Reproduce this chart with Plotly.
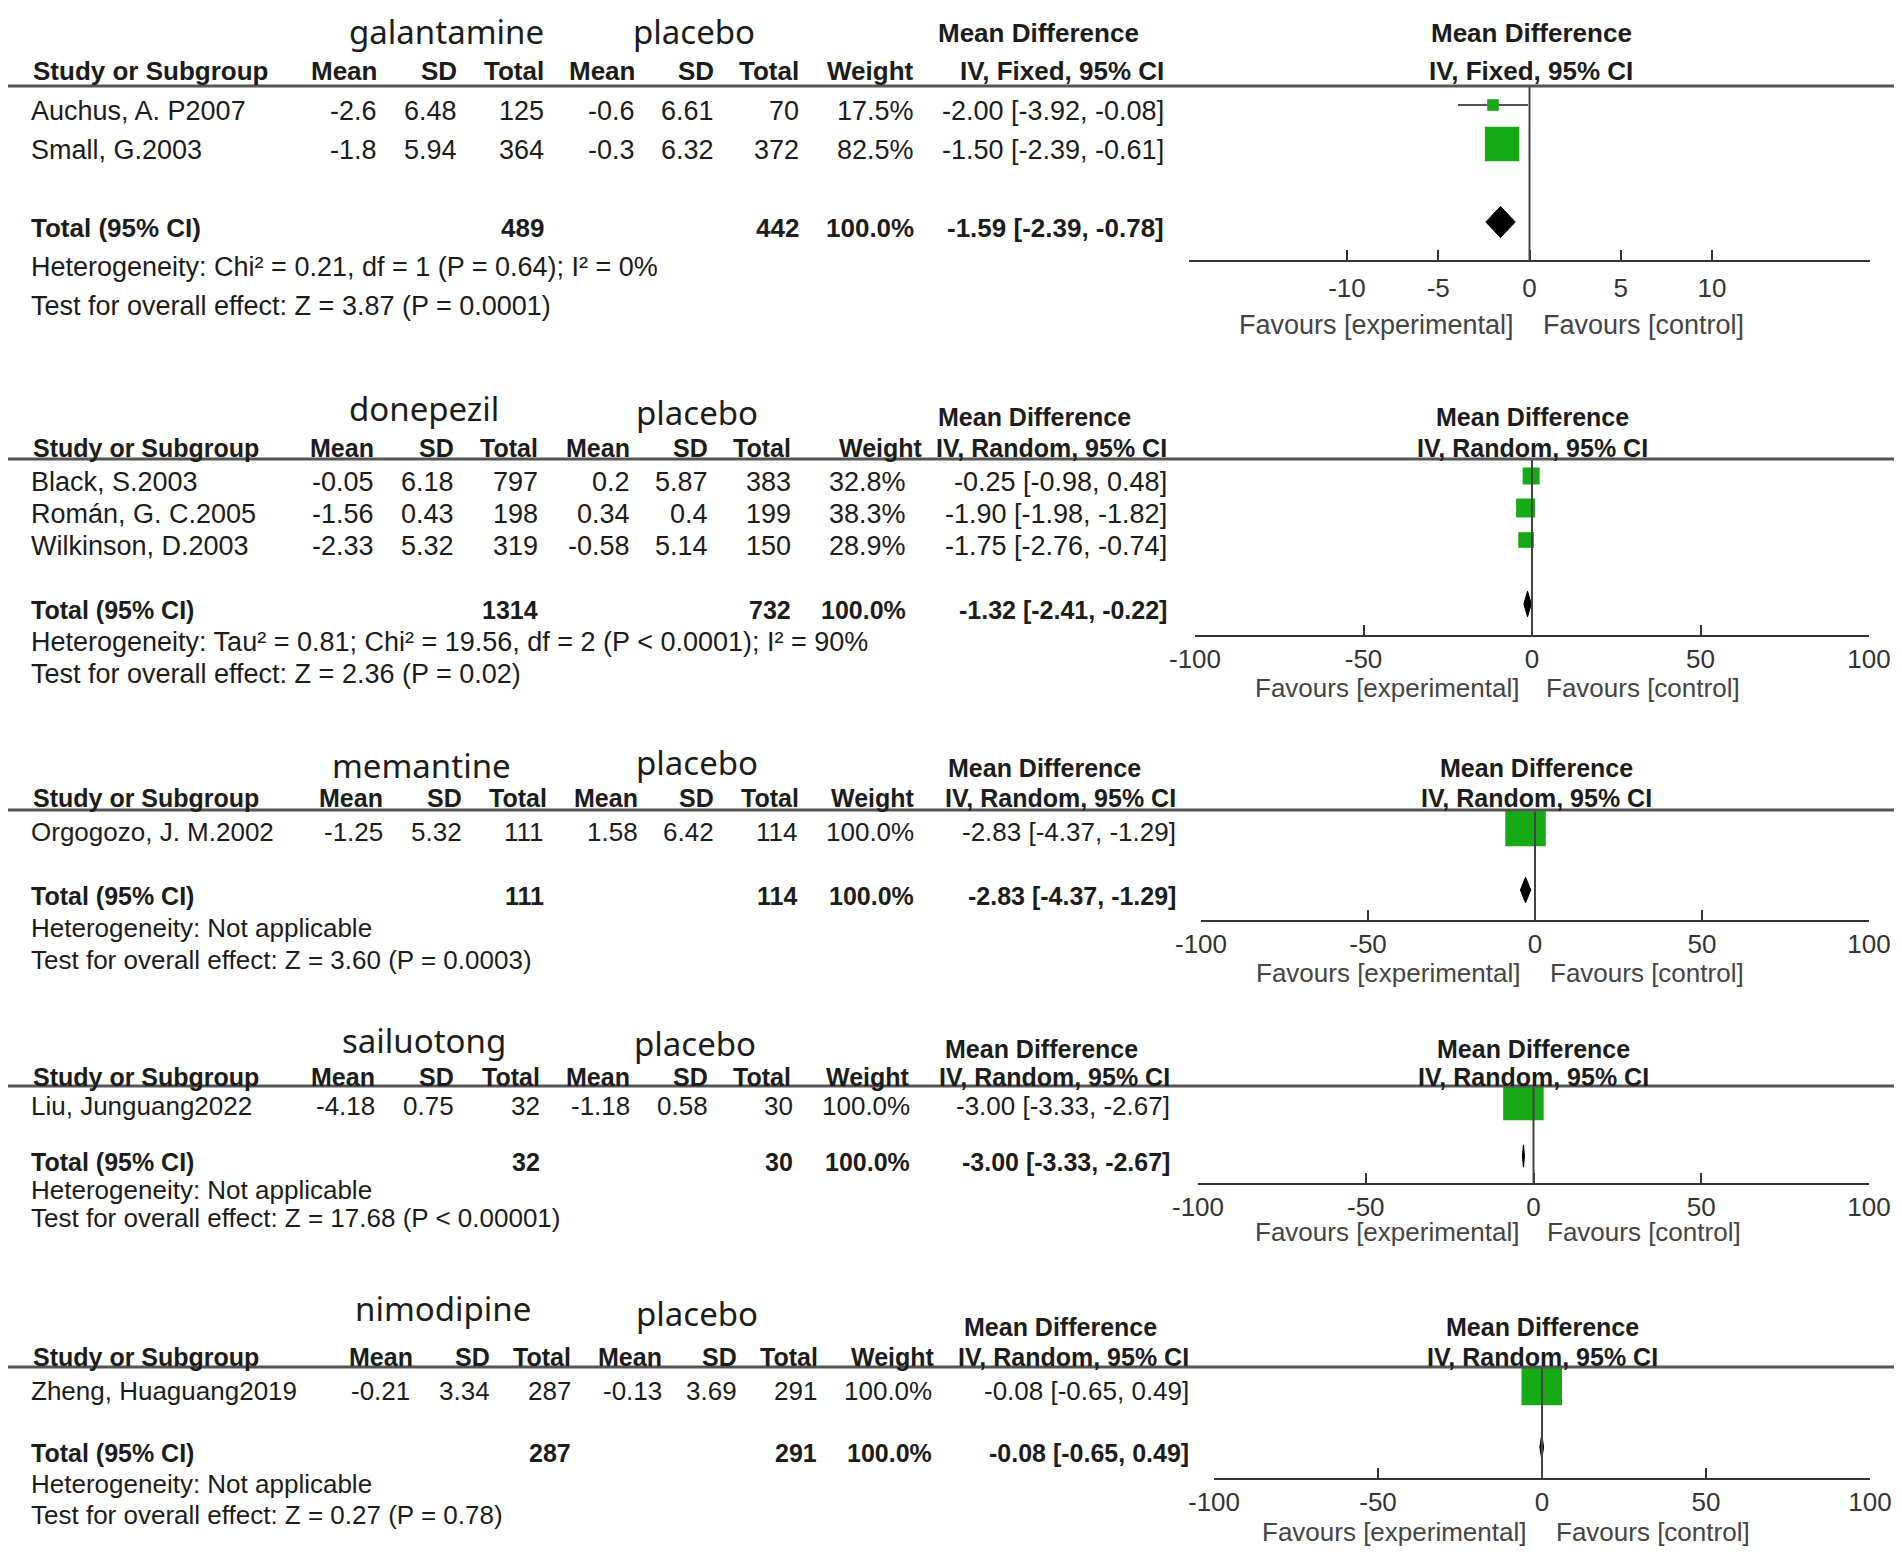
import plotly.graph_objects as go

# ---------------- DATA ----------------
# Panel 1: galantamine vs placebo
P1_DRUG = "galantamine"
P1_METHOD = "IV, Fixed, 95% CI"
P1_STUDY = ["Auchus, A. P2007", "Small, G.2003"]
P1_EXP_MEAN = [-2.6, -1.8]
P1_EXP_SD = [6.48, 5.94]
P1_EXP_N = [125, 364]
P1_CTL_MEAN = [-0.6, -0.3]
P1_CTL_SD = [6.61, 6.32]
P1_CTL_N = [70, 372]
P1_WEIGHT = [17.5, 82.5]
P1_MD = [-2.00, -1.50]
P1_LO = [-3.92, -2.39]
P1_HI = [-0.08, -0.61]
P1_POOLED = [-1.59, -2.39, -0.78]
P1_HET = "Heterogeneity: Chi² = 0.21, df = 1 (P = 0.64); I² = 0%"
P1_TEST = "Test for overall effect: Z = 3.87 (P = 0.0001)"
P1_TICKS = [-10, -5, 0, 5, 10]

# Panel 2: donepezil vs placebo
P2_DRUG = "donepezil"
P2_METHOD = "IV, Random, 95% CI"
P2_STUDY = ["Black, S.2003", "Román, G. C.2005", "Wilkinson, D.2003"]
P2_EXP_MEAN = [-0.05, -1.56, -2.33]
P2_EXP_SD = [6.18, 0.43, 5.32]
P2_EXP_N = [797, 198, 319]
P2_CTL_MEAN = [0.2, 0.34, -0.58]
P2_CTL_SD = [5.87, 0.4, 5.14]
P2_CTL_N = [383, 199, 150]
P2_WEIGHT = [32.8, 38.3, 28.9]
P2_MD = [-0.25, -1.90, -1.75]
P2_LO = [-0.98, -1.98, -2.76]
P2_HI = [0.48, -1.82, -0.74]
P2_POOLED = [-1.32, -2.41, -0.22]
P2_HET = "Heterogeneity: Tau² = 0.81; Chi² = 19.56, df = 2 (P < 0.0001); I² = 90%"
P2_TEST = "Test for overall effect: Z = 2.36 (P = 0.02)"
P2_TICKS = [-100, -50, 0, 50, 100]

# Panel 3: memantine vs placebo
P3_DRUG = "memantine"
P3_METHOD = "IV, Random, 95% CI"
P3_STUDY = ["Orgogozo, J. M.2002"]
P3_EXP_MEAN = [-1.25]
P3_EXP_SD = [5.32]
P3_EXP_N = [111]
P3_CTL_MEAN = [1.58]
P3_CTL_SD = [6.42]
P3_CTL_N = [114]
P3_WEIGHT = [100.0]
P3_MD = [-2.83]
P3_LO = [-4.37]
P3_HI = [-1.29]
P3_POOLED = [-2.83, -4.37, -1.29]
P3_HET = "Heterogeneity: Not applicable"
P3_TEST = "Test for overall effect: Z = 3.60 (P = 0.0003)"
P3_TICKS = [-100, -50, 0, 50, 100]

# Panel 4: sailuotong vs placebo
P4_DRUG = "sailuotong"
P4_METHOD = "IV, Random, 95% CI"
P4_STUDY = ["Liu, Junguang2022"]
P4_EXP_MEAN = [-4.18]
P4_EXP_SD = [0.75]
P4_EXP_N = [32]
P4_CTL_MEAN = [-1.18]
P4_CTL_SD = [0.58]
P4_CTL_N = [30]
P4_WEIGHT = [100.0]
P4_MD = [-3.00]
P4_LO = [-3.33]
P4_HI = [-2.67]
P4_POOLED = [-3.00, -3.33, -2.67]
P4_HET = "Heterogeneity: Not applicable"
P4_TEST = "Test for overall effect: Z = 17.68 (P < 0.00001)"
P4_TICKS = [-100, -50, 0, 50, 100]

# Panel 5: nimodipine vs placebo
P5_DRUG = "nimodipine"
P5_METHOD = "IV, Random, 95% CI"
P5_STUDY = ["Zheng, Huaguang2019"]
P5_EXP_MEAN = [-0.21]
P5_EXP_SD = [3.34]
P5_EXP_N = [287]
P5_CTL_MEAN = [-0.13]
P5_CTL_SD = [3.69]
P5_CTL_N = [291]
P5_WEIGHT = [100.0]
P5_MD = [-0.08]
P5_LO = [-0.65]
P5_HI = [0.49]
P5_POOLED = [-0.08, -0.65, 0.49]
P5_HET = "Heterogeneity: Not applicable"
P5_TEST = "Test for overall effect: Z = 0.27 (P = 0.78)"
P5_TICKS = [-100, -50, 0, 50, 100]

CONTROL = "placebo"
HEADERS = ["Mean", "SD", "Total", "Mean", "SD", "Total", "Weight"]
FAV_EXP = "Favours [experimental]"
FAV_CTL = "Favours [control]"

panels = [
    dict(drug=P1_DRUG, method=P1_METHOD, study=P1_STUDY, em=P1_EXP_MEAN, esd=P1_EXP_SD, en=P1_EXP_N,
         cm=P1_CTL_MEAN, csd=P1_CTL_SD, cn=P1_CTL_N, w=P1_WEIGHT, md=P1_MD, lo=P1_LO, hi=P1_HI,
         pooled=P1_POOLED, het=P1_HET, test=P1_TEST, ticks=P1_TICKS),
    dict(drug=P2_DRUG, method=P2_METHOD, study=P2_STUDY, em=P2_EXP_MEAN, esd=P2_EXP_SD, en=P2_EXP_N,
         cm=P2_CTL_MEAN, csd=P2_CTL_SD, cn=P2_CTL_N, w=P2_WEIGHT, md=P2_MD, lo=P2_LO, hi=P2_HI,
         pooled=P2_POOLED, het=P2_HET, test=P2_TEST, ticks=P2_TICKS),
    dict(drug=P3_DRUG, method=P3_METHOD, study=P3_STUDY, em=P3_EXP_MEAN, esd=P3_EXP_SD, en=P3_EXP_N,
         cm=P3_CTL_MEAN, csd=P3_CTL_SD, cn=P3_CTL_N, w=P3_WEIGHT, md=P3_MD, lo=P3_LO, hi=P3_HI,
         pooled=P3_POOLED, het=P3_HET, test=P3_TEST, ticks=P3_TICKS),
    dict(drug=P4_DRUG, method=P4_METHOD, study=P4_STUDY, em=P4_EXP_MEAN, esd=P4_EXP_SD, en=P4_EXP_N,
         cm=P4_CTL_MEAN, csd=P4_CTL_SD, cn=P4_CTL_N, w=P4_WEIGHT, md=P4_MD, lo=P4_LO, hi=P4_HI,
         pooled=P4_POOLED, het=P4_HET, test=P4_TEST, ticks=P4_TICKS),
    dict(drug=P5_DRUG, method=P5_METHOD, study=P5_STUDY, em=P5_EXP_MEAN, esd=P5_EXP_SD, en=P5_EXP_N,
         cm=P5_CTL_MEAN, csd=P5_CTL_SD, cn=P5_CTL_N, w=P5_WEIGHT, md=P5_MD, lo=P5_LO, hi=P5_HI,
         pooled=P5_POOLED, het=P5_HET, test=P5_TEST, ticks=P5_TICKS),
]

# ---------------- LAYOUT (pixel geometry of each panel, in page pixels) ----------------
PAGE_OFFSET = 8          # browser default body margin
W, H = 1902 - PAGE_OFFSET, 1562 - PAGE_OFFSET
GEOM = [
    dict(drug=(446, 32), ctl=(694, 32), md_left=(936, 33), hdr_y=71, line_y=86, y0=105, u=39, axis_y=260,
         cols=[379, 459, 546, 637, 716, 801, 916, 1166], hcols=[379, 459, 546, 637, 716, 801, 916],
         rc=1531, xdom=(1189, 1870), xr=(-18.65, 18.65), tick_off=28, fav_y=325, fav_split=(1516, 1541),
         fs=26, row_fs=27, note_fs=27, fav_fs=27),
    dict(drug=(424, 408), ctl=(697, 412), md_left=(936, 417), hdr_y=448, line_y=459, y0=476, u=32, axis_y=635,
         cols=[376, 456, 540, 632, 710, 793, 908, 1169], hcols=[376, 456, 540, 632, 710, 793, 925],
         rc=1532, xdom=(1195, 1869), xr=(-100, 100), tick_off=23, fav_y=688, fav_split=(1521, 1544),
         fs=25, row_fs=27, note_fs=27, fav_fs=26),
    dict(drug=(421, 765), ctl=(697, 763), md_left=(946, 768), hdr_y=798, line_y=810, y0=826, u=32, axis_y=920,
         cols=[385, 464, 546, 640, 716, 799, 916, 1178], hcols=[385, 464, 549, 640, 716, 801, 917],
         rc=1536, xdom=(1201, 1869), xr=(-100, 100), tick_off=23, fav_y=973, fav_split=(1522, 1548),
         fs=25, row_fs=26, note_fs=26, fav_fs=26),
    dict(drug=(424, 1040), ctl=(695, 1043), md_left=(943, 1049), hdr_y=1077, line_y=1086, y0=1100, u=28, axis_y=1183,
         cols=[377, 456, 542, 632, 710, 795, 912, 1172], hcols=[377, 456, 542, 632, 710, 793, 912],
         rc=1533, xdom=(1198, 1869), xr=(-100, 100), tick_off=20, fav_y=1232, fav_split=(1521, 1545),
         fs=25, row_fs=26, note_fs=26, fav_fs=26),
    dict(drug=(443, 1308), ctl=(697, 1313), md_left=(962, 1327), hdr_y=1357, line_y=1367, y0=1385, u=31, axis_y=1478,
         cols=[412, 492, 573, 664, 739, 819, 934, 1191], hcols=[415, 492, 573, 664, 739, 820, 937],
         rc=1542, xdom=(1214, 1870), xr=(-100, 100), tick_off=22, fav_y=1532, fav_split=(1528, 1554),
         fs=25, row_fs=26, note_fs=26, fav_fs=26),
]

TXT = "#1c1c1c"
GREEN = "#16aa16"
FONT = "Liberation Sans, Arial, sans-serif"
TITLE_FONT = "Noto Sans, Open Sans, sans-serif"
TEXT_SHIFT = 6  # text centres sit slightly below the marks (px)
DEFAULT_TICK_OFFSET = 24


def fx(px):
    return (px - PAGE_OFFSET) / W


def fy(px):
    return 1 - (px - PAGE_OFFSET) / H


fig = go.Figure()
annotations = []
shapes = []


def ann(text, x, ypx, xanchor="left", size=26, bold=False, color=TXT, family=FONT):
    annotations.append(dict(
        text=f"<b>{text}</b>" if bold else text,
        x=fx(x), y=fy(ypx), xref="paper", yref="paper", xanchor=xanchor, yanchor="middle",
        showarrow=False,
        font=dict(family=family, size=size, color=color),
    ))


def fmt(v):
    return f"{v:g}"


def ci(m, lo, hi):
    return f"{m:.2f} [{lo:.2f}, {hi:.2f}]"


for k, (p, g) in enumerate(zip(panels, GEOM), start=1):
    xa = "x" if k == 1 else f"x{k}"
    ya = "y" if k == 1 else f"y{k}"
    fs = g["fs"]
    n = len(p["study"])

    def row_px(r, g=g):
        # pixel row of a table line, same mapping as the y axis plus text offset
        return g["y0"] + r * g["u"] + TEXT_SHIFT

    fig.update_layout(**{
        ("xaxis" if k == 1 else f"xaxis{k}"): dict(
            domain=[fx(g["xdom"][0]), fx(g["xdom"][1])], range=list(g["xr"]), anchor=ya,
            showline=True, linecolor="#333333", linewidth=2, ticks="inside", ticklen=10,
            tickwidth=2, tickcolor="#333333", tickvals=p["ticks"], ticktext=[str(t) for t in p["ticks"]],
            tickfont=dict(family=FONT, size=26, color="#333333"), showgrid=False, zeroline=False,
            ticklabelstandoff=max(0, g["tick_off"] - DEFAULT_TICK_OFFSET), fixedrange=True,
            automargin=False,
        ),
        ("yaxis" if k == 1 else f"yaxis{k}"): dict(
            domain=[fy(g["axis_y"]), fy(g["line_y"])],
            range=[(g["axis_y"] - g["y0"]) / g["u"], (g["line_y"] - g["y0"]) / g["u"]],
            anchor=xa, visible=False, fixedrange=True, automargin=False,
        ),
    })

    rows = list(range(n))
    total_row = n + 1

    # CI whiskers
    wx, wy = [], []
    for i in rows:
        wx += [p["lo"][i], p["hi"][i], None]
        wy += [i, i, None]
    fig.add_trace(go.Scatter(x=wx, y=wy, mode="lines", line=dict(color="#555555", width=2),
                             xaxis=xa, yaxis=ya, hoverinfo="skip", showlegend=False))
    # study squares (size from weight)
    fig.add_trace(go.Scatter(x=p["md"], y=rows, mode="markers",
                             marker=dict(symbol="square", color=GREEN, opacity=1,
                                         size=[5.5 + 0.35 * w for w in p["w"]], line=dict(width=0)),
                             xaxis=xa, yaxis=ya, showlegend=False))
    # pooled diamond
    est, plo, phi = p["pooled"]
    h = 0.4
    fig.add_trace(go.Scatter(x=[plo, est, phi, est, plo],
                             y=[total_row, total_row - h, total_row, total_row + h, total_row],
                             mode="lines", fill="toself", fillcolor="black",
                             line=dict(color="black", width=1), xaxis=xa, yaxis=ya,
                             hoverinfo="skip", showlegend=False))

    # zero line and header rule
    shapes.append(dict(type="line", xref=xa, yref=f"{ya} domain", x0=0, x1=0, y0=0, y1=1,
                       line=dict(color="#444444", width=2)))
    shapes.append(dict(type="line", xref="paper", yref="paper", x0=fx(8), x1=fx(1896),
                       y0=fy(g["line_y"]), y1=fy(g["line_y"]), line=dict(color="#555555", width=3)))

    # group titles
    ann(p["drug"], g["drug"][0], g["drug"][1], "center", size=33, family=TITLE_FONT)
    ann(CONTROL, g["ctl"][0], g["ctl"][1], "center", size=33, family=TITLE_FONT)
    ann("Mean Difference", g["md_left"][0], g["md_left"][1], "left", size=fs, bold=True)
    ann(p["method"], g["cols"][7], g["hdr_y"], "right", size=fs, bold=True)
    ann("Mean Difference", g["rc"], g["md_left"][1], "center", size=fs, bold=True)
    ann(p["method"], g["rc"], g["hdr_y"], "center", size=fs, bold=True)

    # column headers
    ann("Study or Subgroup", 31, g["hdr_y"], "left", size=fs, bold=True)
    for lab, cx in zip(HEADERS, g["hcols"]):
        ann(lab, cx, g["hdr_y"], "right", size=fs, bold=True)

    # study rows
    for i in rows:
        vals = [fmt(p["em"][i]), fmt(p["esd"][i]), str(p["en"][i]),
                fmt(p["cm"][i]), fmt(p["csd"][i]), str(p["cn"][i]),
                f"{p['w'][i]:.1f}%", ci(p["md"][i], p["lo"][i], p["hi"][i])]
        ann(p["study"][i], 29, row_px(i), "left", size=g["row_fs"])
        for v, cx in zip(vals, g["cols"]):
            ann(v, cx, row_px(i), "right", size=g["row_fs"])

    # total row
    ann("Total (95% CI)", 29, row_px(total_row), "left", size=fs, bold=True)
    ann(str(sum(p["en"])), g["cols"][2], row_px(total_row), "right", size=fs, bold=True)
    ann(str(sum(p["cn"])), g["cols"][5], row_px(total_row), "right", size=fs, bold=True)
    ann(f"{sum(p['w']):.1f}%", g["cols"][6], row_px(total_row), "right", size=fs, bold=True)
    ann(ci(est, plo, phi), g["cols"][7], row_px(total_row), "right", size=fs, bold=True)
    ann(p["het"], 29, row_px(total_row + 1), "left", size=g["note_fs"])
    ann(p["test"], 29, row_px(total_row + 2), "left", size=g["note_fs"])

    # favours labels
    ann(FAV_EXP, g["fav_split"][0], g["fav_y"], "right", size=g["fav_fs"], color="#444444")
    ann(FAV_CTL, g["fav_split"][1], g["fav_y"], "left", size=g["fav_fs"], color="#444444")

fig.update_layout(
    width=W, height=H, margin=dict(l=0, r=0, t=0, b=0, pad=0, autoexpand=False),
    paper_bgcolor="white", plot_bgcolor="white", showlegend=False,
    annotations=annotations, shapes=shapes,
)

fig.write_html("out.html")
